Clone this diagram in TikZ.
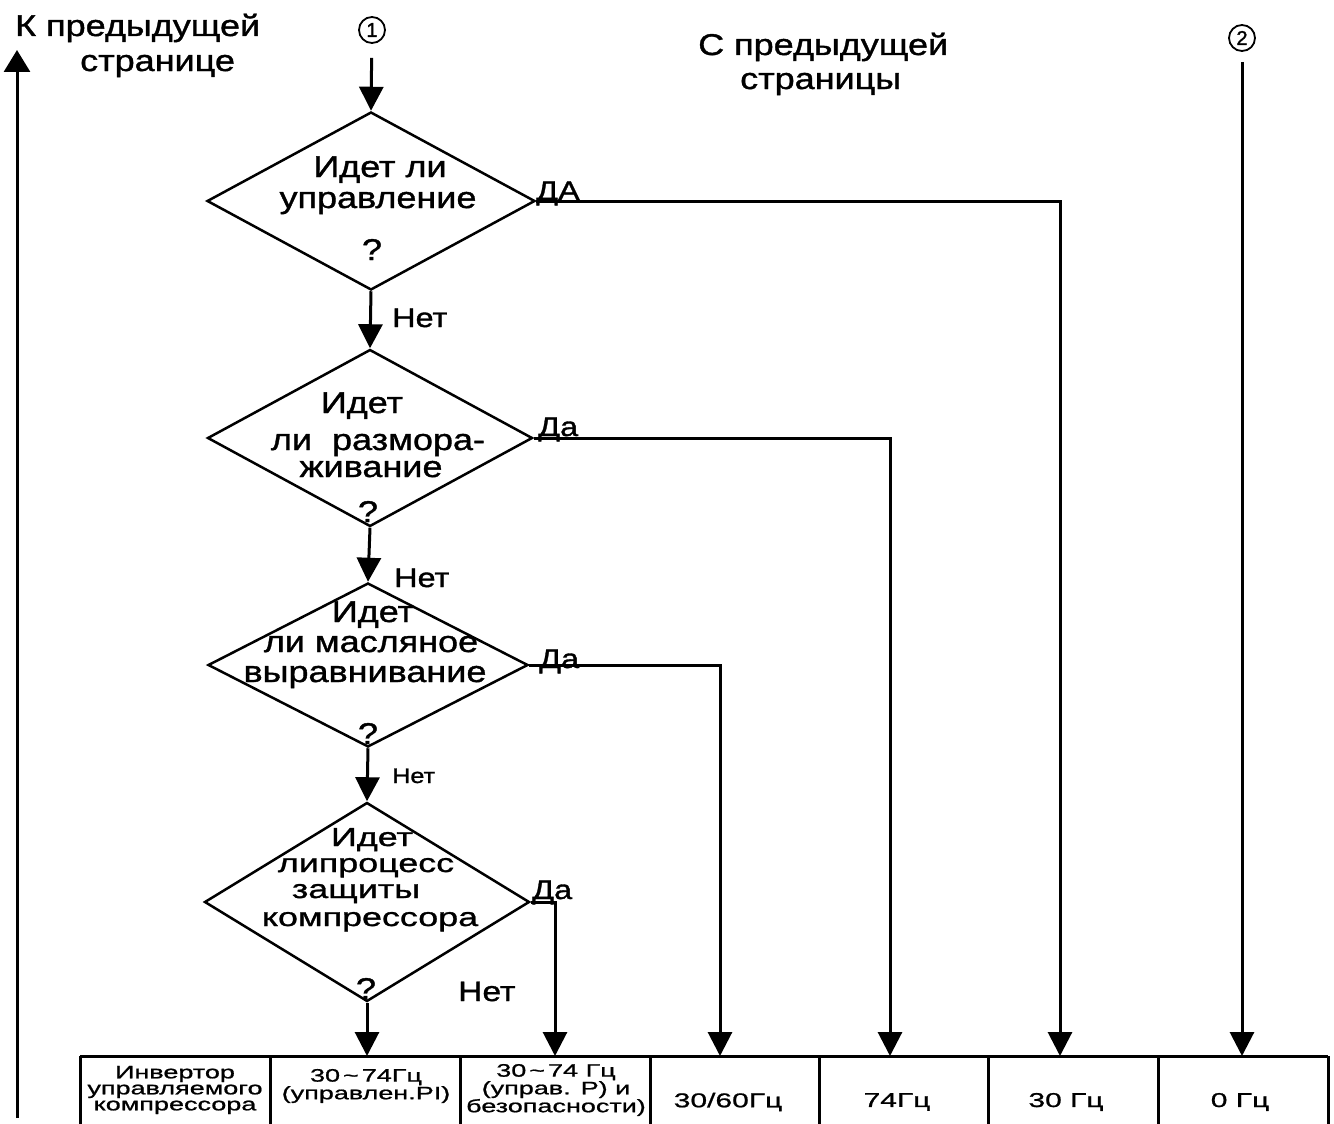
\documentclass[tikz,border=0pt]{standalone}
\usepackage{fontspec}
\setmainfont{Liberation Sans}
\newfontfamily\mfont[FakeStretch=1.2,FakeBold=1.2]{Liberation Sans}
\newfontfamily\nfont[FakeStretch=1.38,FakeBold=1.2]{Liberation Sans}
\newfontfamily\tfont[FakeStretch=1.5,FakeBold=1.0]{Liberation Sans}
\newfontfamily\cfont[FakeBold=1.5]{Liberation Sans}
\usetikzlibrary{shapes.geometric,arrows.meta}
\begin{document}
\begin{tikzpicture}[x=1pt,y=-1pt,
  dia/.style={diamond, draw, line width=2.5pt, inner sep=0pt},
  arr/.style={line width=3pt, -{Triangle[width=24pt,length=24pt]}},
  ln/.style={line width=3pt},
  dtxt/.style={anchor=base, inner sep=0pt, font=\mfont\fontsize{30}{30}\selectfont},
  dtxs/.style={anchor=base, inner sep=0pt, font=\nfont\fontsize{26}{26}\selectfont},
  lbl/.style={anchor=base west, inner sep=0pt, font=\mfont\fontsize{27}{27}\selectfont},
  top/.style={anchor=base west, inner sep=0pt, font=\mfont\fontsize{30}{30}\selectfont},
  num/.style={circle, draw, line width=1.8pt, inner sep=0pt, minimum size=26pt, font=\cfont\fontsize{20}{20}\selectfont},
  cell/.style={align=center, inner sep=0pt, font=\tfont\fontsize{18}{16}\selectfont},
  cellb/.style={inner sep=0pt, font=\tfont\fontsize{20}{20}\selectfont}
]
\useasboundingbox (0,0) rectangle (1334,1124);

% connectors circles
\node[num] (c1) at (372,30) {1};
\node[num] (c2) at (1242,38) {2};

% headings
\node[top] (h1a) at (15,36) {К предыдущей};
\node[top] (h1b) at (80,71) {странице};
\node[top] (h2a) at (698,55) {С предыдущей};
\node[top] (h2b) at (740,89) {страницы};

% diamonds
\node[dia, minimum width=328pt, minimum height=178pt] (d1) at (371,201) {};
\node[dia, minimum width=325pt, minimum height=177pt] (d2) at (370,438) {};
\node[dia, minimum width=320pt, minimum height=164pt] (d3) at (368,665) {};
\node[dia, minimum width=325pt, minimum height=199pt] (d4) at (367,902) {};

% diamond texts
\node[dtxt] (t1a) at (380,177) {Идет ли};
\node[dtxt] (t1b) at (378,208) {управление};
\node[dtxt] (t1c) at (372,260) {?};

\node[dtxt] (t2a) at (362,413) {Идет};
\node[dtxt] (t2b) at (378,450) {ли\ \ размора-};
\node[dtxt] (t2c) at (371,477) {живание};
\node[dtxt] (t2d) at (368,522) {?};

\node[dtxt] (t3a) at (373,622) {Идет};
\node[dtxt] (t3b) at (371,652) {ли масляное};
\node[dtxt] (t3c) at (365,682) {выравнивание};
\node[dtxt] (t3d) at (368,744) {?};

\node[dtxs] (t4a) at (372,846) {Идет};
\node[dtxs] (t4b) at (366,872) {липроцесс};
\node[dtxs] (t4c) at (356,898) {защиты};
\node[dtxs] (t4d) at (370,926) {компрессора};
\node[dtxt] (t4e) at (366,999) {?};

% yes / no labels
\node[lbl] (y1) at (536,200) {ДА};
\node[lbl] (y2) at (538,436) {Да};
\node[lbl] (y3) at (539,668) {Да};
\node[lbl] (y4) at (532,899) {Да};
\node[lbl] (n1) at (392,327) {Нет};
\node[lbl] (n2) at (394,587) {Нет};
\node[lbl, font=\mfont\fontsize{21}{21}\selectfont] (n3) at (392,783) {Нет};
\node[lbl, font=\mfont\fontsize{28}{28}\selectfont] (n4) at (458,1001) {Нет};

% table
\coordinate (tl) at (80,1056);
\coordinate (tr) at (1328,1056);
\draw[ln] (tl) -- (tr);
\foreach \x in {80,270,460,650,819,988,1158,1328}
  \draw[ln] (\x,1056) -- (\x,1124);

\node[cell] (k1) at (175,1090) {Инвертор\\управляемого\\компрессора};
\node[cell] (k2) at (366,1086) {30\,\textasciitilde\,74Гц\\(управлен.PI)};
\node[cell] (k3) at (556,1090) {30\,\textasciitilde\,74 Гц\\(управ. Р) и\\безопасности)};
\node[cellb] (k4) at (728,1102) {30/60Гц};
\node[cellb] (k5) at (897,1102) {74Гц};
\node[cellb] (k6) at (1066,1102) {30 Гц};
\node[cellb] (k7) at (1240,1102) {0 Гц};

% arrow targets on the table top
\coordinate (a4) at (555,1056);
\coordinate (a3) at (720,1056);
\coordinate (a2) at (890,1056);
\coordinate (a1) at (1060,1056);

% flow
\draw[arr, shorten <=14pt] (c1) -- (d1.north);
\draw[arr] (d1.south) -- (d2.north);
\draw[arr] (d2.south) -- (d3.north);
\draw[arr] (d3.south) -- (d4.north);
\draw[arr] (d4.south) -- (d4.south |- tl);
\draw[arr] (d1.east) -| (a1);
\draw[arr] (d2.east) -| (a2);
\draw[arr] (d3.east) -| (a3);
\draw[arr] (d4.east) -| (a4);
\draw[arr, shorten <=10pt] (c2) -- (c2 |- tl);

% left arrow
\coordinate (lb) at (17,1118);
\coordinate (lt) at (17,50);
\draw[line width=3pt, -{Triangle[width=26pt,length=22pt]}] (lb) -- (lt);
\end{tikzpicture}
\end{document}
